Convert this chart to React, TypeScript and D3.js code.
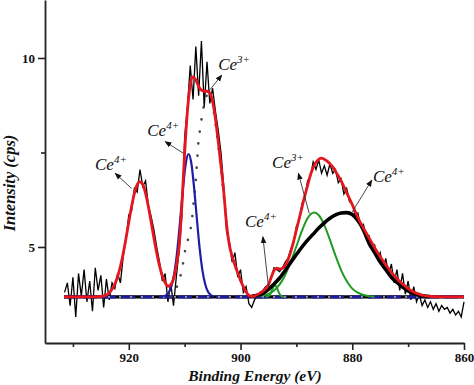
import React, { useEffect, useRef } from 'react'
import * as d3 from 'd3'

// Ce 3d XPS spectrum, raw counts from 931.5 eV down to 860 eV, one point every 0.5 eV
const rawStart = 931.5
const rawStep = 0.5
const rawCounts = [
  3.80, 4.05, 3.45, 4.20, 3.15, 4.30, 3.70, 4.40, 3.55, 4.10,
  3.30, 4.45, 3.85, 4.25, 3.40, 4.15, 3.60, 4.05, 3.90, 4.30,
  4.05, 4.75, 5.20, 5.85, 5.95, 6.55, 6.45, 7.05, 6.60, 6.75,
  6.10, 5.80, 5.45, 5.00, 4.60, 4.10, 4.30, 3.55, 4.05, 3.45,
  4.20, 4.90, 5.80, 7.90, 8.70, 9.80, 8.90, 10.30, 9.00, 10.45,
  8.70, 9.90, 8.80, 9.20, 8.60, 8.10, 7.50, 6.60, 5.40, 5.15,
  4.60, 4.85, 4.20, 4.40, 3.80, 3.95, 3.50, 3.40, 3.60, 3.70,
  3.80, 3.85, 3.95, 4.00, 4.20, 4.45, 4.40, 4.35, 4.45, 4.60,
  4.70, 4.95, 5.10, 5.55, 5.70, 6.15, 6.30, 6.75, 6.85, 7.25,
  7.05, 7.30, 6.95, 7.15, 6.90, 7.20, 6.95, 7.05, 6.70, 6.80,
  6.40, 6.55, 6.20, 6.15, 5.85, 5.90, 5.55, 5.60, 5.25, 5.30,
  4.95, 5.05, 4.70, 4.85, 4.45, 4.70, 4.25, 4.55, 4.05, 4.40,
  3.85, 4.30, 3.75, 4.10, 3.60, 3.95, 3.55, 3.75, 3.45, 3.60,
  3.40, 3.55, 3.35, 3.50, 3.30, 3.45, 3.35, 3.40, 3.25, 3.35,
  3.20, 3.30, 3.15, 3.55
]

// [binding energy (eV), intensity]
const baseline = [[931.6, 3.68], [860, 3.68]]

const envelope = [
  [931.6, 3.68], [926, 3.68], [925, 3.69], [924, 3.73], [923.5, 3.79], [923, 3.88], [922.5, 4.02],
  [922, 4.22], [921.5, 4.49], [921, 4.83], [920.5, 5.23], [920, 5.66], [919.5, 6.07], [919, 6.42],
  [918.5, 6.65], [918.1, 6.73], [917.5, 6.65], [917, 6.42], [916.5, 6.07], [916, 5.66], [915.5, 5.23],
  [915, 4.84], [914.5, 4.5], [914, 4.24], [913.5, 4.06], [913, 3.96], [912.5, 4.0], [912, 4.15],
  [911.5, 4.5], [911, 5.0], [910.5, 6.1], [910, 7.5], [909.5, 8.6], [909, 9.3], [908.6, 9.5],
  [908, 9.42], [907.5, 9.25], [907, 9.15], [906.5, 9.12], [906, 9.12], [905.5, 9.08], [905, 8.85],
  [904.5, 8.4], [904, 7.8], [903.5, 7.15], [903, 6.45], [902.5, 5.6], [902, 5.05], [901.5, 4.75],
  [901, 4.52], [900.5, 4.32], [900, 4.12], [899.5, 3.95], [899, 3.81], [898.5, 3.72], [898, 3.69],
  [897.5, 3.7], [897, 3.74], [896.5, 3.78], [896, 3.83], [895.5, 3.9], [895, 4.0], [894.5, 4.2],
  [894, 4.38], [893.5, 4.44], [893, 4.42], [892.5, 4.44], [892, 4.52], [891.5, 4.66], [891, 4.88],
  [890.5, 5.15], [890, 5.45], [889.5, 5.75], [889, 6.05], [888.5, 6.35], [888, 6.62], [887.5, 6.9],
  [887, 7.1], [886.5, 7.24], [886, 7.32], [885.5, 7.35], [885, 7.32], [884.5, 7.27], [884, 7.2],
  [883.5, 7.12], [883, 7.0], [882, 6.75], [881, 6.44], [880, 6.12], [879, 5.78], [878, 5.5],
  [877, 5.24], [876, 4.98], [875, 4.74], [874, 4.53], [873, 4.33], [872, 4.16], [871, 4.02],
  [870, 3.9], [869, 3.81], [868, 3.75], [867, 3.71], [866, 3.69], [864, 3.68], [860, 3.68]
]

// Ce4+ component near 909 eV (blue)
const ce4Peak909 = [
  [913.8, 3.69], [913.3, 3.73], [912.8, 3.81], [912.3, 4.0], [911.8, 4.36], [911.3, 4.94],
  [910.8, 5.72], [910.3, 6.55], [909.8, 7.21], [909.3, 7.46], [908.8, 7.21], [908.3, 6.55],
  [907.8, 5.72], [907.3, 4.94], [906.8, 4.36], [906.3, 4.0], [905.8, 3.81], [905.3, 3.73], [904.8, 3.69]
]

// Ce3+ component near 905 eV (dotted)
const ce3Peak905 = [
  [912.5, 3.69], [912, 3.74], [911.7, 3.82], [911.1, 4.08], [910.5, 4.39], [909.9, 4.92],
  [909.3, 5.27], [908.7, 5.71], [908.45, 6.1], [908.1, 6.6], [907.8, 7.2], [907.55, 7.75],
  [907.25, 8.1], [906.8, 8.55], [906.3, 8.9], [905.8, 9.06], [905.3, 9.0], [904.8, 8.6],
  [904.3, 8.05], [903.8, 7.45], [903.3, 6.8], [902.8, 6.05], [902.3, 5.35], [901.8, 4.9],
  [901.3, 4.62], [900.8, 4.42], [900.3, 4.22], [899.8, 4.02], [899.3, 3.86], [898.8, 3.76],
  [898.3, 3.7], [897.8, 3.68]
]

// Ce3+ component near 887 eV (green)
const ce3Peak887 = [
  [897, 3.70], [896, 3.72], [895, 3.76], [894, 3.85], [893, 4.01], [892, 4.26], [891, 4.61],
  [890, 5.02], [889, 5.43], [888, 5.76], [886.8, 5.91], [886, 5.84], [885, 5.58], [884, 5.19],
  [883, 4.77], [882, 4.39], [881, 4.10], [880, 3.90], [879, 3.79], [878, 3.73], [877, 3.70], [876, 3.69]
]

// small Ce4+ component near 894 eV (green)
const ce4Peak894 = [
  [895.5, 3.68], [894.8, 3.72], [894.4, 3.85], [894, 3.97], [893.8, 3.99], [893.5, 3.92],
  [893.1, 3.78], [892.7, 3.7], [892.2, 3.68]
]

// Ce4+ component near 881 eV (thick black)
const ce4Peak881 = [
  [898, 3.70], [897, 3.72], [896, 3.77], [895, 3.88], [894, 4.02], [893, 4.18], [892, 4.38],
  [891, 4.6], [890, 4.8], [889, 5.0], [888, 5.18], [887, 5.34], [886, 5.5], [885, 5.64],
  [884, 5.76], [883, 5.85], [882, 5.9], [881, 5.91], [880, 5.86], [879, 5.7], [878, 5.45],
  [877, 5.1], [876, 4.85], [875, 4.6], [874, 4.4], [873, 4.2], [872, 4.06], [871, 3.94],
  [870, 3.84], [869, 3.77], [868, 3.72], [867, 3.7], [866, 3.69]
]

const xMajorTicks = [920, 900, 880, 860]
const xMinorTicks = [930, 910, 890, 870]
const yMajorTicks = [5, 10]
const yMinorTicks = [7.5]

// labels: text, charge, anchor [eV, intensity], arrow from / to [eV, intensity]
const labels = [
  { ion: 'Ce', charge: '4+', at: [926.05, 7.04], from: [919.5, 6.55], to: [922.45, 6.95] },
  { ion: 'Ce', charge: '4+', at: [916.7, 7.94], from: [910.25, 7.48], to: [913.5, 7.79] },
  { ion: 'Ce', charge: '3+', at: [904.0, 9.68], from: [905.75, 9.11], to: [903.35, 9.55] },
  { ion: 'Ce', charge: '4+', at: [899.2, 5.53], from: [895.0, 3.95], to: [896.0, 5.27] },
  { ion: 'Ce', charge: '3+', at: [894.35, 7.09], from: [887.7, 5.89], to: [889.65, 6.95] },
  { ion: 'Ce', charge: '4+', at: [876.3, 6.72], from: [880.0, 5.93], to: [876.5, 6.77] }
]

const serifFont = '"Liberation Serif", "Times New Roman", Times, "DejaVu Serif", serif'

function App () {
  const ref = useRef<SVGSVGElement>(null)

  useEffect(() => {
    const width = 474
    const height = 385
    const svg = d3.select(ref.current)
    svg.selectAll('*').remove()
    svg.attr('width', width).attr('height', height)

    const x = d3.scaleLinear().domain([935, 860]).range([45, 464])
    const y = d3.scaleLinear().domain([2.46, 11.534]).range([343, 0])

    const line = d3.line<number[]>()
      .x(d => x(d[0]))
      .y(d => y(d[1]))
      .curve(d3.curveMonotoneX)

    const raw = rawCounts.map((v, i) => [rawStart - i * rawStep, v])

    svg.append('defs').append('marker')
      .attr('id', 'arrowhead')
      .attr('viewBox', '0 0 10 10')
      .attr('refX', 9)
      .attr('refY', 5)
      .attr('markerWidth', 7)
      .attr('markerHeight', 7)
      .attr('markerUnits', 'userSpaceOnUse')
      .attr('orient', 'auto')
      .append('path')
      .attr('d', 'M0,1 L10,5 L0,9 z')
      .attr('fill', '#111')

    // raw data
    svg.append('path')
      .datum(raw)
      .attr('fill', 'none')
      .attr('stroke', '#000')
      .attr('stroke-width', 1.3)
      .attr('d', d3.line<number[]>().x(d => x(d[0])).y(d => y(d[1])))

    // baseline: black under navy dashes, grey dots on top
    svg.append('path').datum(baseline)
      .attr('fill', 'none').attr('stroke', '#000').attr('stroke-width', 3.2)
      .attr('d', line)
    svg.append('path').datum(baseline)
      .attr('fill', 'none').attr('stroke', '#1d1d9c').attr('stroke-width', 3)
      .attr('stroke-dasharray', '14,5')
      .attr('d', line)
    svg.append('path').datum(baseline)
      .attr('fill', 'none').attr('stroke', '#9a9a9a').attr('stroke-width', 1.6)
      .attr('stroke-dasharray', '2,9')
      .attr('d', line)

    // Ce3+ 905 dotted
    svg.append('path').datum(ce3Peak905)
      .attr('fill', 'none').attr('stroke', '#444').attr('stroke-width', 2.6)
      .attr('stroke-linecap', 'round')
      .attr('stroke-dasharray', '0.1,12')
      .attr('d', line)

    // green components
    svg.append('path').datum(ce3Peak887)
      .attr('fill', 'none').attr('stroke', '#1f9a24').attr('stroke-width', 2)
      .attr('d', line)
    svg.append('path').datum(ce4Peak894)
      .attr('fill', 'none').attr('stroke', '#1f9a24').attr('stroke-width', 2)
      .attr('d', line)

    // black component
    svg.append('path').datum(ce4Peak881)
      .attr('fill', 'none').attr('stroke', '#000').attr('stroke-width', 3.6)
      .attr('d', line)

    // blue component
    svg.append('path').datum(ce4Peak909)
      .attr('fill', 'none').attr('stroke', '#1d1da6').attr('stroke-width', 2.2)
      .attr('d', line)

    // envelope
    svg.append('path').datum(envelope)
      .attr('fill', 'none').attr('stroke', '#e5161e').attr('stroke-width', 2.8)
      .attr('d', line)

    // annotations
    labels.forEach(l => {
      svg.append('line')
        .attr('x1', x(l.from[0])).attr('y1', y(l.from[1]))
        .attr('x2', x(l.to[0])).attr('y2', y(l.to[1]))
        .attr('stroke', '#333').attr('stroke-width', 0.9)
        .attr('marker-end', 'url(#arrowhead)')
      const t = svg.append('text')
        .attr('x', x(l.at[0])).attr('y', y(l.at[1]))
        .style('font-family', serifFont)
        .style('font-style', 'italic')
        .style('font-size', '17px')
        .attr('fill', '#111')
      t.append('tspan').text(l.ion)
      t.append('tspan').style('font-size', '11px').attr('dy', -7).text(l.charge)
    })

    // axes
    const styleAxis = (g: any) => {
      g.attr('font-family', null).attr('font-size', null)
      g.selectAll('path').attr('stroke', '#222').attr('stroke-width', 1.8)
      g.selectAll('line').attr('stroke', '#222').attr('stroke-width', 1.6)
      g.selectAll('text')
        .style('font-family', serifFont)
        .style('font-weight', 'bold')
        .style('font-size', '13px')
        .attr('fill', '#111')
    }

    svg.append('g')
      .attr('transform', 'translate(0,343)')
      .call(d3.axisBottom(x).tickValues(xMinorTicks).tickSize(4).tickFormat(() => ''))
      .call(g => g.select('.domain').remove())
      .call(styleAxis)
    svg.append('g')
      .attr('transform', 'translate(0,343)')
      .call(d3.axisBottom(x).tickValues(xMajorTicks).tickSize(7).tickSizeOuter(0).tickFormat(d3.format('d')))
      .call(styleAxis)

    svg.append('g')
      .attr('transform', 'translate(45,0)')
      .call(d3.axisLeft(y).tickValues(yMinorTicks).tickSize(4).tickFormat(() => ''))
      .call(g => g.select('.domain').remove())
      .call(styleAxis)
    svg.append('g')
      .attr('transform', 'translate(45,0)')
      .call(d3.axisLeft(y).tickValues(yMajorTicks).tickSize(7).tickSizeOuter(0).tickFormat(d3.format('d')))
      .call(styleAxis)

    // axis titles
    svg.append('text')
      .attr('x', 255)
      .attr('y', 381)
      .attr('text-anchor', 'middle')
      .style('font-family', serifFont)
      .style('font-weight', 'bold')
      .style('font-style', 'italic')
      .style('font-size', '15.5px')
      .attr('fill', '#111')
      .text('Binding Energy (eV)')

    svg.append('g')
      .attr('transform', 'translate(15,183)')
      .append('text')
      .attr('text-anchor', 'middle')
      .attr('transform', 'rotate(-90)')
      .style('font-family', serifFont)
      .style('font-weight', 'bold')
      .style('font-style', 'italic')
      .style('font-size', '16.5px')
      .attr('fill', '#111')
      .text('Intensity (cps)')
  }, [])

  return (
    <svg
      ref={ref}
      style={{ position: 'absolute', left: 0, top: 0, background: '#fff' }}
    />
  )
}

export default App
